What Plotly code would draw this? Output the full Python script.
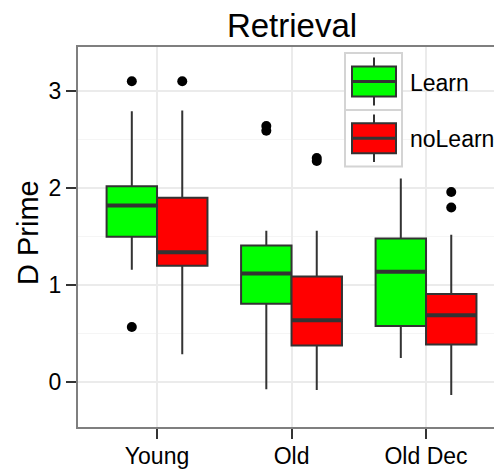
import plotly.graph_objects as go

categories = ["Young", "Old", "Old Dec"]
groups = ["Learn", "noLearn"]
colors = {"Learn": "#00FF00", "noLearn": "#FF0000"}

learn_q1 = [1.50, 0.81, 0.58]
learn_med = [1.82, 1.12, 1.14]
learn_q3 = [2.02, 1.41, 1.48]
learn_lo = [1.16, -0.07, 0.25]
learn_hi = [2.79, 1.56, 2.10]
learn_out_cat = [0, 0, 1, 1]
learn_out_val = [3.10, 0.57, 2.64, 2.59]

nolearn_q1 = [1.20, 0.38, 0.39]
nolearn_med = [1.34, 0.64, 0.69]
nolearn_q3 = [1.90, 1.09, 0.91]
nolearn_lo = [0.29, -0.08, -0.13]
nolearn_hi = [2.80, 1.56, 1.52]
nolearn_out_cat = [0, 1, 1, 2, 2]
nolearn_out_val = [3.10, 2.31, 2.28, 1.96, 1.80]

stats = {
    "Learn": (learn_q1, learn_med, learn_q3, learn_lo, learn_hi, learn_out_cat, learn_out_val),
    "noLearn": (nolearn_q1, nolearn_med, nolearn_q3, nolearn_lo, nolearn_hi, nolearn_out_cat, nolearn_out_val),
}

# page body has an 8px margin; figure is sized so it ends at the window edge
OFF = 8
W, H = 502 - OFF, 474 - OFF
L, R, T, B = 77 - OFF, 0, 46 - OFF, 474 - 428
PW, PH = W - L - R, H - T - B
BOXW = 0.375
offsets = {"Learn": -BOXW / 2, "noLearn": BOXW / 2}
LINE = "#333333"

fig = go.Figure()
for g in groups:
    q1, med, q3, lo, hi, oc, ov = stats[g]
    xs = [i + offsets[g] for i in range(len(categories))]
    fig.add_trace(go.Box(
        x=xs, q1=q1, median=med, q3=q3, lowerfence=lo, upperfence=hi,
        width=BOXW, fillcolor=colors[g], line=dict(color=LINE, width=2),
        whiskerwidth=0, name=g, showlegend=False, hoverinfo="skip",
    ))
    mx, my = [], []
    for x, m in zip(xs, med):
        mx += [x - BOXW / 2, x + BOXW / 2, None]
        my += [m, m, None]
    fig.add_trace(go.Scatter(x=mx, y=my, mode="lines", line=dict(color=LINE, width=4),
                             showlegend=False, hoverinfo="skip"))
    fig.add_trace(go.Scatter(x=[c + offsets[g] for c in oc], y=ov, mode="markers",
                             marker=dict(color="black", size=10), showlegend=False,
                             hoverinfo="skip"))

# helpers: convert window pixel positions to paper coordinates
def px(x):
    return (x - OFF - L) / PW

def py(y):
    return (H - B - (y - OFF)) / PH

shapes = []
annotations = []
shapes.append(dict(type="rect", xref="paper", yref="paper", x0=0, x1=1.05, y0=0, y1=1,
                   line=dict(color="#7F7F7F", width=2), layer="above"))

keys = [("Learn", 53, 110), ("noLearn", 110, 166.5)]
for g, top, bot in keys:
    shapes.append(dict(type="rect", xref="paper", yref="paper", x0=px(345), x1=px(402),
                       y0=py(bot), y1=py(top), fillcolor="white",
                       line=dict(color="#D4D4D4", width=2), layer="above"))
    cy = (top + bot) / 2
    shapes.append(dict(type="line", xref="paper", yref="paper", x0=px(374), x1=px(374),
                       y0=py(top + 4.5), y1=py(bot - 4.5), line=dict(color=LINE, width=2),
                       layer="above"))
    shapes.append(dict(type="rect", xref="paper", yref="paper", x0=px(352), x1=px(396),
                       y0=py(cy + 15), y1=py(cy - 15), fillcolor=colors[g],
                       line=dict(color=LINE, width=2), layer="above"))
    shapes.append(dict(type="line", xref="paper", yref="paper", x0=px(352), x1=px(396),
                       y0=py(cy), y1=py(cy), line=dict(color=LINE, width=3), layer="above"))
    annotations.append(dict(text=g, xref="paper", yref="paper", x=px(408), y=py(cy + 1),
                            xanchor="left", yanchor="middle", showarrow=False,
                            font=dict(size=23, color="black", family="Liberation Sans")))

annotations.append(dict(text="D Prime", xref="paper", yref="paper", x=px(28), y=py(233),
                        xanchor="center", yanchor="middle", textangle=-90, showarrow=False,
                        font=dict(size=29, color="black", family="Liberation Sans")))

fig.update_layout(
    width=W, height=H, margin=dict(l=L, r=R, t=T, b=B),
    paper_bgcolor="white", plot_bgcolor="white",
    boxmode="overlay",
    title=dict(text="Retrieval", x=(292 - OFF) / W, xanchor="center", y=1 - (25 - OFF) / H,
               yanchor="middle", xref="container", yref="container",
               font=dict(size=33, color="black", family="Liberation Sans")),
    font=dict(family="Liberation Sans", color="black"),
    shapes=shapes, annotations=annotations, showlegend=False,
)
fig.update_xaxes(
    range=[-0.595, -0.595 + PW / 134.5], tickvals=list(range(len(categories))), ticktext=categories,
    showgrid=True, gridcolor="#EBEBEB", gridwidth=1.5, zeroline=False,
    ticks="outside", ticklen=10, tickwidth=2, tickcolor=LINE,
    tickfont=dict(size=23, color="black"), ticklabelstandoff=-3,
)
fig.update_yaxes(
    range=[-0.47, 3.463], tickvals=[0, 1, 2, 3], ticktext=["0", "1", "2", "3"],
    showgrid=True, gridcolor="#EBEBEB", gridwidth=1.5, zeroline=False,
    ticks="outside", ticklen=10, tickwidth=2, tickcolor=LINE,
    tickfont=dict(size=23, color="black"),
    minor=dict(tickvals=[-0.5, 0.5, 1.5, 2.5], showgrid=True, gridcolor="#F5F5F5", gridwidth=1.2, ticks=""),
)

fig.write_html("out.html")
